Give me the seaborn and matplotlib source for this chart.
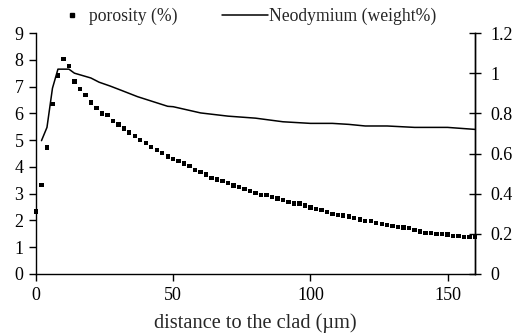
import matplotlib
matplotlib.use("Agg")
import matplotlib.pyplot as plt
from matplotlib.lines import Line2D
import pandas as pd
import seaborn as sns

# Porosity profile, sampled every 2 µm from the clad interface
distance_um = list(range(0, 162, 2))
porosity_pct = [
    2.34, 3.32, 4.73, 6.34, 7.41, 8.03, 7.76, 7.19, 6.90, 6.69,
    6.41, 6.19, 6.00, 5.93, 5.72, 5.59, 5.44, 5.29, 5.15, 5.01,
    4.89, 4.74, 4.62, 4.51, 4.39, 4.29, 4.22, 4.13, 4.03, 3.88,
    3.81, 3.72, 3.59, 3.53, 3.47, 3.40, 3.31, 3.24, 3.17, 3.10,
    3.03, 2.96, 2.96, 2.88, 2.82, 2.76, 2.70, 2.64, 2.64, 2.56,
    2.49, 2.43, 2.39, 2.32, 2.23, 2.21, 2.18, 2.14, 2.09, 2.04,
    1.99, 1.99, 1.91, 1.87, 1.82, 1.80, 1.76, 1.73, 1.72, 1.64,
    1.59, 1.54, 1.52, 1.50, 1.49, 1.47, 1.43, 1.42, 1.38, 1.38,
    1.39,
]

# Neodymium content profile
nd_distance_um = [2, 4, 6, 8, 12, 14, 20, 23, 27, 31, 37, 48, 50, 60, 70,
                  80, 90, 100, 108, 114, 120, 128, 138, 150, 160]
nd_weight_pct = [0.664, 0.73, 0.925, 1.02, 1.02, 1.0, 0.976, 0.955, 0.936,
                 0.915, 0.883, 0.835, 0.833, 0.802, 0.786, 0.776, 0.758,
                 0.750, 0.750, 0.745, 0.737, 0.737, 0.730, 0.730, 0.72]

x_ticks = [0, 50, 100, 150]
left_ticks = list(range(0, 10))
right_ticks = [0, 0.2, 0.4, 0.6, 0.8, 1.0, 1.2]
right_labels = ["0", "0.2", "0.4", "0.6", "0.8", "1", "1.2"]

por_df = pd.DataFrame({"distance": distance_um, "porosity": porosity_pct})
nd_df = pd.DataFrame({"distance": nd_distance_um, "nd": nd_weight_pct})

sns.set_style("ticks")
plt.rcParams["font.family"] = ["Liberation Serif", "DejaVu Serif"]

W, H = 519, 335
fig = plt.figure(figsize=(W / 100, H / 100), dpi=100)
ax = fig.add_axes([36 / W, 1 - 274 / H, (475 - 36) / W, (274 - 33) / H])
ax2 = ax.twinx()

sns.scatterplot(data=por_df, x="distance", y="porosity", ax=ax, marker="s",
                s=10, color="black", edgecolor="none", linewidth=0,
                legend=False, clip_on=False, zorder=3)
sns.lineplot(data=nd_df, x="distance", y="nd", ax=ax2, color="black",
             linewidth=1.1, legend=False)

ax.set_xlim(0, 160)
ax.set_ylim(0, 9)
ax2.set_ylim(0, 1.2)
ax.set_xticks(x_ticks)
ax.set_yticks(left_ticks)
ax2.set_yticks(right_ticks)
ax2.set_yticklabels(right_labels)

ax.set_xlabel("distance to the clad (µm)", fontsize=14.7)
ax.xaxis.set_label_coords(0.5, (274 - 323) / 241)
ax.xaxis.label.set_va("center")
ax.set_ylabel("")
ax2.set_ylabel("")

for a in (ax, ax2):
    a.spines["top"].set_visible(False)
    for s in a.spines.values():
        s.set_linewidth(1.0)
        s.set_color("black")
ax2.spines["left"].set_visible(False)
ax2.spines["bottom"].set_visible(False)

ax.tick_params(axis="both", direction="out", length=5, width=1, colors="black",
               labelsize=13, pad=4)
ax2.tick_params(axis="y", direction="inout", length=8.5, width=1,
                colors="black", labelsize=13, pad=6.5)

# Legend above the plot: two entries laid out in one row
leg_fs = 12.7
leg1 = fig.legend(
    [Line2D([], [], marker="s", linestyle="none", color="black",
            markersize=3.4)],
    ["porosity (%)"], loc="center left",
    bbox_to_anchor=(63 / W, 1 - 16.5 / H), frameon=False, fontsize=leg_fs,
    handlelength=1.0, handletextpad=0.5, borderpad=0, borderaxespad=0)
leg2 = fig.legend(
    [Line2D([], [], color="black", linewidth=1.1)],
    ["Neodymium (weight%)"], loc="center left",
    bbox_to_anchor=(222 / W, 1 - 16.5 / H), frameon=False, fontsize=leg_fs,
    handlelength=2.6, handletextpad=0.05, borderpad=0, borderaxespad=0)

fig.savefig("out.png", dpi=100)
